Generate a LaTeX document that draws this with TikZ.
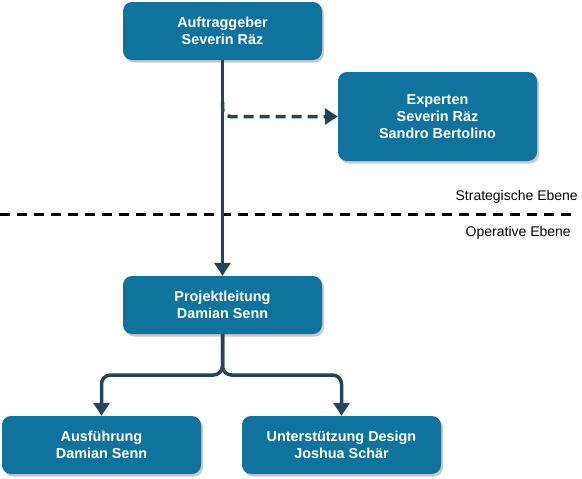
\documentclass[tikz,border=0pt]{standalone}
\usepackage{fontspec}
\setmainfont{Liberation Sans}
\usetikzlibrary{arrows.meta, positioning, shadows}
\definecolor{boxblue}{HTML}{10739E}
\definecolor{linkblue}{HTML}{23445D}
\tikzstyle{role} = [rectangle, rounded corners=9pt, minimum width=199pt, minimum height=58pt, align=center, text=white, fill=boxblue, font=\fontsize{14.4}{17}\selectfont\bfseries, drop shadow={shadow xshift=2pt, shadow yshift=-2.5pt, opacity=0.35, fill=black!60}]
\tikzstyle{link} = [line width=3.5pt, draw=linkblue, -{Triangle[width=16pt,length=13pt]}]
\tikzstyle{level} = [font=\fontsize{14}{17}\selectfont, anchor=east, inner sep=0pt]

\begin{document}
\begin{tikzpicture}[x=1pt, y=-1pt]
\useasboundingbox (0,0) rectangle (582,479);

% divider between the two levels
\coordinate (divleft) at (0,214);
\coordinate (divright) at (574,214);
\draw [line width=3pt, dash pattern=on 10pt off 7pt] (divleft) -- (divright);
\node (strat) [level] at (578,197) {Strategische Ebene};
\node (oper) [level] at (571,233) {Operative Ebene};

\node (auftrag) [role] at (222.5,31) {Auftraggeber\\Severin Räz};
\node (experten) [role, minimum height=89pt] at (437.5,116.5) {Experten\\Severin Räz\\Sandro Bertolino};
\node (projekt) [role] at (222.5,305) {Projektleitung\\Damian Senn};
\node (ausf) [role] at (101.5,445) {Ausführung\\Damian Senn};
\node (design) [role] at (341.5,445) {Unterstützung Design\\Joshua Schär};

\coordinate (branch) at (222.5,102);
\coordinate (split) at (222.5,375);

\draw [link] (auftrag) -- (projekt);
\draw [link, dash pattern=on 10pt off 6pt, rounded corners=8pt] (branch) |- (experten.west);
\draw [link, rounded corners=9pt] (projekt.south) -- (split) -| (ausf.north);
\draw [link, rounded corners=9pt] (projekt.south) -- (split) -| (design.north);

\end{tikzpicture}
\end{document}
